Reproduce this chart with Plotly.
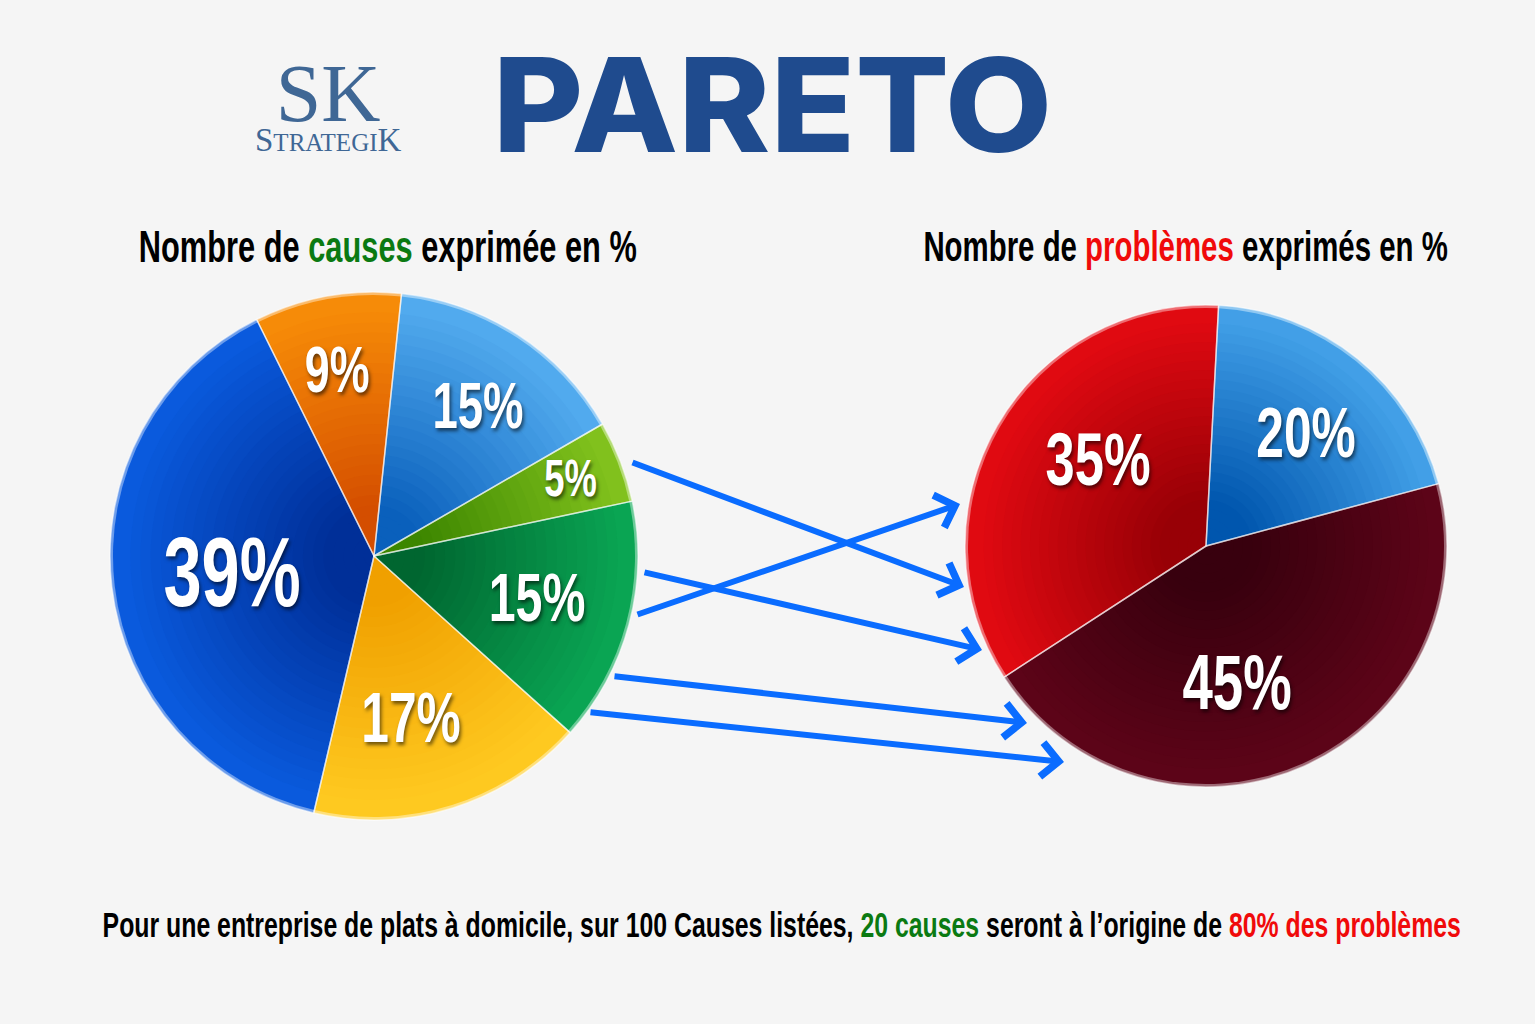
import plotly.graph_objects as go

causes_values = [15, 5, 15, 17, 39, 9]
causes_labels = ['15%', '5%', '15%', '17%', '39%', '9%']
problems_values = [20, 45, 35]
problems_labels = ['20%', '45%', '35%']

W, H = 1535, 1024
SANS = 'Liberation Sans, Arial, sans-serif'
SERIF = 'Liberation Serif, serif'
GREEN_TXT = '#0b7a12'
RED_TXT = '#f00a0a'
ARROW = '#0a6cff'
LOGO = '#3f6795'

# couleurs bord -> centre pour chaque part
causes_rim = ['#55aef0', '#84c41e', '#0aa855', '#ffcb22', '#0a5ce0', '#f88e08']
causes_hub = ['#0a60bc', '#3c8600', '#006630', '#f0a000', '#002f98', '#d44e00']
problems_rim = ['#45a3ea', '#5e0418', '#e40a12']
problems_hub = ['#0056ae', '#38000e', '#980006']

# place et taille des pourcentages
causes_pos = [(478, 405), (570, 478), (537, 597), (411, 717), (232, 572), (337, 370)]
causes_size = [65, 52, 69, 71, 98, 64]
problems_pos = [(1306, 432), (1237, 682), (1098, 459)]
problems_size = [71, 78, 75]


def x_(px):
    return px / W


def y_(px):
    return 1 - px / H


def blend(c1, c2, t):
    a = [int(c1[i:i + 2], 16) for i in (1, 3, 5)]
    b = [int(c2[i:i + 2], 16) for i in (1, 3, 5)]
    return '#%02x%02x%02x' % tuple(round(p + (q - p) * t) for p, q in zip(a, b))


def add_pie(fig, values, rim, hub, cx, cy, r, rotation):
    # empilement de camemberts pour imiter le degrade
    for i in range(26):
        s = i / 26
        rr = r * (1 - s)
        colors = [blend(a, '#ffffff', 0.4) if i == 0 else blend(a, b, min(1, s * 1.25))
                  for a, b in zip(rim, hub)]
        if i == 1:
            rr = r - 3
        fig.add_trace(go.Pie(
            values=values,
            sort=False,
            direction='clockwise',
            rotation=rotation,
            domain=dict(x=[x_(cx - rr), x_(cx + rr)], y=[y_(cy + rr), y_(cy - rr)]),
            marker=dict(colors=colors, line=dict(width=0)),
            textinfo='none',
            hoverinfo='skip',
            showlegend=False,
        ))
    # separations entre les parts
    fig.add_trace(go.Pie(
        values=values,
        sort=False,
        direction='clockwise',
        rotation=rotation,
        domain=dict(x=[x_(cx - r), x_(cx + r)], y=[y_(cy + r), y_(cy - r)]),
        marker=dict(colors=['rgba(0,0,0,0)'] * len(values),
                    line=dict(color='rgba(255,255,255,0.55)', width=1.5)),
        textinfo='none',
        hoverinfo='skip',
        showlegend=False,
    ))


fig = go.Figure()
add_pie(fig, causes_values, causes_rim, causes_hub, 374, 556, 264, 6)
add_pie(fig, problems_values, problems_rim, problems_hub, 1206, 546, 241, 3)

annotations = []


def label(px, py, text, size, family, color='black', weight='normal', shadow=None):
    font = dict(size=size, family=family, color=color, weight=weight)
    if shadow:
        font['shadow'] = shadow
    annotations.append(dict(x=x_(px), y=y_(py), xref='paper', yref='paper', text=text, showarrow=False,
                            xanchor='center', yanchor='middle', font=font))


label(772, 104, 'PARETO', 130, 'Inter, sans-serif', '#1f4b8e', 800)
label(388, 246, f'Nombre de <span style="color:{GREEN_TXT}">causes</span> exprimée en %', 44, SANS, weight='bold')
label(1185, 246, f'Nombre de <span style="color:{RED_TXT}">problèmes</span> exprimés en %', 42, SANS, weight='bold')
label(781, 925, f'Pour une entreprise de plats à domicile, sur 100 Causes listées, '
      f'<span style="color:{GREEN_TXT}">20 causes</span> seront à l’origine de '
      f'<span style="color:{RED_TXT}">80% des problèmes</span>', 35.5, SANS, weight='bold')

for labels, pos, sizes in [(causes_labels, causes_pos, causes_size),
                           (problems_labels, problems_pos, problems_size)]:
    for t, (px, py), s in zip(labels, pos, sizes):
        label(px, py, t, s, SANS, 'white', 'bold', '2px 3px 4px rgba(0,0,0,0.55)')

# logo, sur deux lignes dans le meme texte
label(328, 103,
      '<span style="font-size:82px">SK</span><br>'
      '<span style="font-size:33px">S</span><span style="font-size:25px">TRATEGI</span>'
      '<span style="font-size:33px">K</span>',
      23, SERIF, LOGO)

# fleches (depart, arrivee) en pixels
arrows = [
    ((631, 462), (964, 587)),
    ((643, 572), (982, 650)),
    ((636, 615), (960, 504)),
    ((613, 676), (1027, 723)),
    ((589, 712), (1064, 762)),
]
for (x0, y0), (x1, y1) in arrows:
    annotations.append(dict(
        x=x_(x1), y=y_(y1), ax=x0 - x1, ay=y0 - y1,
        xref='paper', yref='paper', axref='pixel', ayref='pixel',
        text='', showarrow=True, arrowhead=4, arrowsize=1.1, arrowwidth=6, arrowcolor=ARROW,
    ))

fig.update_layout(
    width=W,
    height=H,
    margin=dict(l=0, r=0, t=0, b=0),
    paper_bgcolor='#f5f5f5',
    plot_bgcolor='#f5f5f5',
    showlegend=False,
    annotations=annotations,
)

# pas de police etroite installee : on resserre le texte a l'affichage
squeeze = """
document.body.style.margin='0';
document.querySelectorAll('.annotation-text').forEach(function(t){
  var fam = t.style.fontFamily;
  var k = fam.indexOf('Inter') >= 0 ? 1.07 : (fam.indexOf('Liberation Sans') >= 0 ? 0.7 : 1);
  t.style.transformBox = 'fill-box';
  t.style.transformOrigin = 'center';
  t.style.transform = 'scaleX(' + k + ')';
});
"""
fig.write_html("out.html", config=dict(displayModeBar=False), post_script=squeeze)
